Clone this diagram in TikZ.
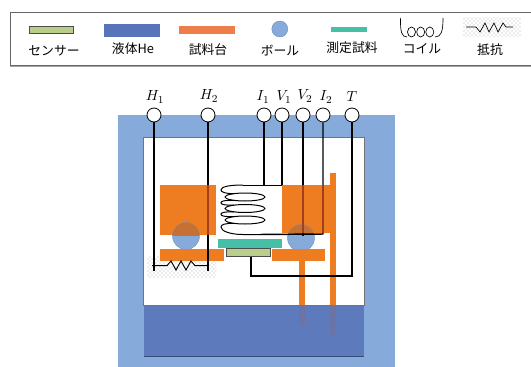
\documentclass[tikz,border=0pt]{standalone}
\usepackage{fontspec}
\newfontfamily\jpfont{Noto Sans CJK JP}
\usetikzlibrary{patterns}
\definecolor{cryoblue}{RGB}{134,170,218}
\definecolor{heblue}{RGB}{88,116,184}
\definecolor{stageorange}{RGB}{237,125,32}
\definecolor{keyorange}{RGB}{237,125,74}
\definecolor{sampleteal}{RGB}{69,191,165}
\definecolor{sensorgreen}{RGB}{185,206,138}
\definecolor{ballshade}{RGB}{198,112,52}
\definecolor{wireshade}{RGB}{165,62,28}
\tikzset{
  wire/.style={line width=1.1pt,black},
  wireover/.style={line width=1.1pt,wireshade},
  coilline/.style={line width=0.75pt},
  term/.style={draw=black,fill=white,circle,minimum size=10.5pt,inner sep=0pt,line width=0.6pt},
  termlabel/.style={inner sep=0.75pt,font=\fontsize{11}{13}\selectfont},
  keylabel/.style={inner sep=0.75pt,font=\jpfont\fontsize{9.6}{11}\selectfont},
  ball/.style={fill=cryoblue,draw=cryoblue!85!black,line width=0.3pt},
  sensor/.style={fill=sensorgreen,draw=black!70,line width=0.6pt},
  noisebox/.style={pattern=crosshatch dots,pattern color=black!30},
}
\begin{document}
\begin{tikzpicture}[x=0.75pt,y=0.75pt,yscale=-1,xscale=1]
\useasboundingbox (0,0) rectangle (531,367);

%Legend frame
\begin{scope}
\clip (0,0) rectangle (531,367);
\draw [draw=black!60,fill=white,line width=0.6pt] (10,12) rectangle (540,65.5) ;
\draw [black!35,line width=0.6pt] (10,66.3) -- (531,66.3) ;
\end{scope}
%Legend symbols
\draw [sensor] (29.4,26.5) rectangle (73.5,33.5) ;
\fill [heblue] (104.4,24) rectangle (160,37.5) ;
\fill [keyorange] (179.4,26.5) rectangle (235,34.5) ;
\draw [ball] (279.8,29) circle (8) ;
\fill [sampleteal] (330.5,27) rectangle (367,32.5) ;
\draw [line width=0.5pt] (400.4,18) .. controls (400.4,32) and (401.5,37) .. (407,37) ;
\draw [line width=0.5pt] (443,18) .. controls (443,32) and (441,37) .. (435,37) ;
\foreach \x in {411.5,420.7,429.8} \draw [line width=0.5pt] (\x,32) ellipse (4 and 5) ;
\fill [noisebox] (463,18) rectangle (521,37) ;
\draw [line width=0.5pt] (466,27) -- (476,27) -- (480,32) -- (485,23) -- (489,32) -- (494,23) -- (498,32) -- (503,23) -- (506,27) -- (513,27) ;

% Text Node
\node [keylabel] (keysensor) at (54,50.5) {センサー};
\node [keylabel] (keyhe) at (133,49) {液体He};
\node [keylabel] (keystage) at (208,50) {試料台};
\node [keylabel] (keyball) at (280,50.5) {ボール};
\node [keylabel] (keysample) at (352,48) {測定試料};
\node [keylabel] (keycoil) at (422,49) {コイル};
\node [keylabel] (keyres) at (490,50) {抵抗};

%Cryostat
\fill [cryoblue] (118,115) rectangle (394.5,367) ;
\draw [black!55,line width=0.4pt,fill=white] (143.5,137) rectangle (364,305) ;

%Rods
\fill [stageorange] (299,255) rectangle (305,325) ;
\fill [stageorange] (330,173) rectangle (335.5,335) ;

%Resistor backing
\fill [noisebox] (147,256) rectangle (216,277) ;

%Terminals
\node [term] (H1) at (154,115) {};
\node [term] (H2) at (208,115) {};
\node [term] (I1) at (264,115) {};
\node [term] (V1) at (282,115) {};
\node [term] (V2) at (303,115) {};
\node [term] (I2) at (323,115) {};
\node [term] (T) at (352,115) {};

% Text Node
\node [termlabel] (H1label) at (155,97) {$H_1$};
\node [termlabel] (H2label) at (209,96) {$H_2$};
\node [termlabel] (I1label) at (263,97) {$I_1$};
\node [termlabel] (V1label) at (284,97) {$V_1$};
\node [termlabel] (V2label) at (305,96) {$V_2$};
\node [termlabel] (I2label) at (326,97) {$I_2$};
\node [termlabel] (Tlabel) at (352,97) {$T$};

%Wire ends
\coordinate (H1end) at (154,271) ;
\coordinate (H2end) at (208,271) ;
\coordinate (I1end) at (264,185) ;
\coordinate (V1end) at (282,185) ;
\coordinate (V2end) at (303,236) ;
\coordinate (I2end) at (323,234) ;
\coordinate (coilend) at (260,234.5) ;
\coordinate (Tcorner) at (352,276) ;
\coordinate (sensorcorner) at (251,276) ;
\coordinate (sensorend) at (251,256) ;
\coordinate (stagetop) at (0,185) ;
\coordinate (stagelow) at (0,233) ;
\coordinate (stageleftlow) at (0,235) ;

%Coil
\draw [line width=0.6pt] (V1end) -- (243,185) ;
\foreach \y in {197,208.5,220} \draw [coilline] (245,\y) ellipse (20 and 4) ;
\foreach \y in {197,208.5} \draw [coilline] (234,\y+3.3) .. controls (224,\y+3.3) and (221,\y+4) .. (221,\y+5.75) .. controls (221,\y+7.5) and (224,\y+8.2) .. (234,\y+8.2) ;
\draw [coilline] (243,185) .. controls (228,185) and (221,187) .. (221,190) .. controls (221,192) and (225,193.7) .. (234,193.7) ;
\draw [coilline] (234,223.3) .. controls (225,223.3) and (221,224.5) .. (221,227) .. controls (221,231) and (230,234.5) .. (243,234.5) -- (coilend) ;

%Stages
\fill [stageorange] (160,185) rectangle (216,235) ;
\fill [stageorange] (282,185) rectangle (330,233) ;

%Balls, the parts behind the stages are darker
\draw [ball] (186,236) circle (13.5) ;
\draw [ball] (301,238) circle (13.5) ;
\begin{scope}
\clip (160,185) rectangle (216,235);
\fill [ballshade] (186,236) circle (13.5) ;
\end{scope}
\begin{scope}
\clip (282,185) rectangle (330,233);
\fill [ballshade] (301,238) circle (13.5) ;
\end{scope}
\fill [stageorange] (160,249) rectangle (224,261) ;
\fill [stageorange] (272,249) rectangle (325,261) ;

%Straight Lines
\draw [wire] (H1) -- (H1end) ;
\draw [wire] (H2) -- (H2end) ;
\draw [wire] (I1) -- (I1end) ;
\draw [wire] (V1) -- (V1end) ;
\draw [wire] (V2) -- (V2end) ;
\draw [wire] (I2) -- (I2end) -- (coilend) ;
\draw [wire] (T) -- (Tcorner) -- (sensorcorner) -- (sensorend) ;

%Wires seen through the stages
\draw [wireover] (H2 |- stagetop) -- (H2 |- stageleftlow) ;
\draw [wireover] (V2 |- stagetop) -- (V2 |- stagelow) ;
\draw [wireover] (I2 |- stagetop) -- (I2 |- stagelow) ;

%Sample and sensor
\fill [sampleteal] (218,239) rectangle (282,248) ;
\draw [sensor] (226,248.5) rectangle (270,256) ;

%Resistor
\draw [line width=0.7pt] (152,265.7) -- (167,265.7) -- (171,261) -- (176,270) -- (181,261) -- (186,270) -- (191,261) -- (195,265.7) -- (208,265.7) ;

%Liquid helium
\fill [heblue,fill opacity=0.88] (143.5,305) rectangle (364,356) ;
\draw [heblue!65!black,line width=0.5pt] (143.5,356.3) -- (364,356.3) ;

\end{tikzpicture}
\end{document}
